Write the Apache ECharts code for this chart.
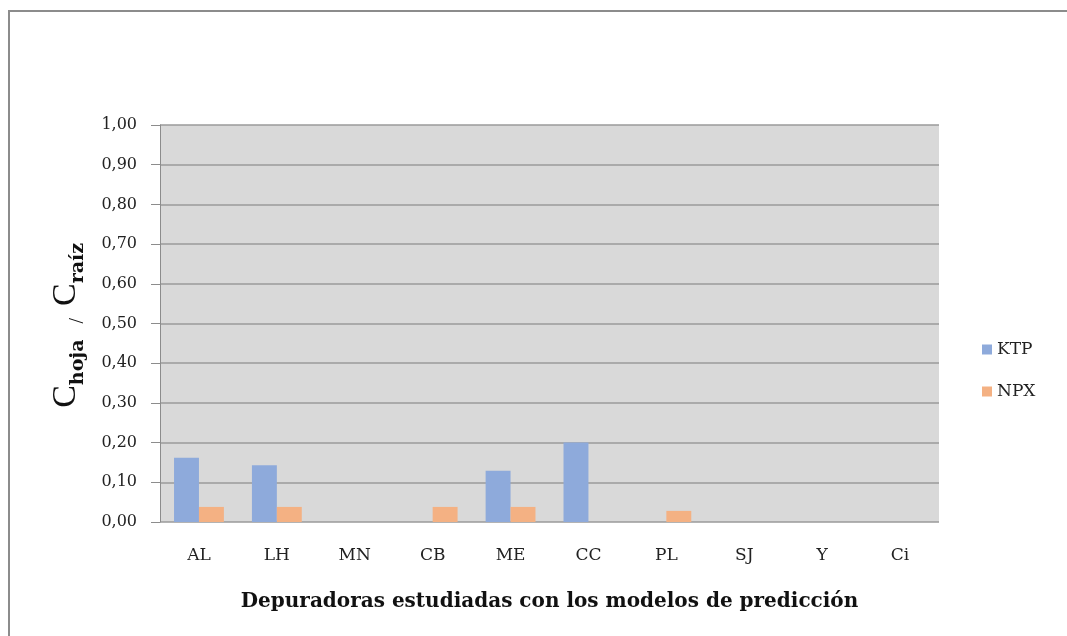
<!DOCTYPE html>
<html>
<head>
<meta charset="utf-8">
<script src="https://cdn.jsdelivr.net/npm/echarts@6/dist/echarts.min.js"></script>
<style>
  html, body { margin: 0; padding: 0; background: #fff; overflow: hidden; }
  #frame { position: absolute; left: 8px; top: 10px; width: 1100px; height: 700px; border: 2px solid #8c8c8c; box-sizing: border-box; }
  #main { position: absolute; left: 0; top: 0; width: 1067px; height: 636px; }
</style>
</head>
<body>
<div id="frame"></div>
<div id="main"></div>
<script>
var categories = ['AL', 'LH', 'MN', 'CB', 'ME', 'CC', 'PL', 'SJ', 'Y', 'Ci'];
var ktp = [0.162, 0.143, null, null, 0.129, 0.20, null, null, null, null];
var npx = [0.038, 0.038, null, 0.038, 0.038, null, 0.028, null, null, null];

var chart = echarts.init(document.getElementById('main'));
var serif = '"DejaVu Serif", "Liberation Serif", serif';
var serif2 = '"Liberation Serif", "DejaVu Serif", serif';

var option = {
  backgroundColor: 'transparent',
  textStyle: { fontFamily: serif },
  legend: {
    orient: 'vertical',
    left: 977,
    top: 336,
    itemWidth: 10,
    itemHeight: 10,
    itemGap: 25,
    icon: 'rect',
    textStyle: { fontFamily: serif, fontSize: 17, color: '#222' },
    data: ['KTP', 'NPX']
  },
  grid: {
    left: 160,
    right: 128,
    top: 125,
    bottom: 114,
    show: true,
    backgroundColor: '#d9d9d9',
    borderWidth: 0
  },
  xAxis: {
    type: 'category',
    data: categories,
    name: 'Depuradoras estudiadas con los modelos de predicción',
    nameLocation: 'middle',
    nameGap: 70,
    nameTextStyle: { fontFamily: serif, fontSize: 20, fontWeight: 'bold', color: '#111' },
    axisLine: { show: false },
    axisTick: { show: false },
    axisLabel: { fontFamily: serif, fontSize: 17, color: '#222', margin: 25 }
  },
  yAxis: {
    type: 'value',
    min: 0,
    max: 1,
    interval: 0.1,
    name: '{c|C}{sub|hoja}{sl|/}{c|C}{sub|raíz}{pad| }',
    nameLocation: 'middle',
    nameGap: 72,
    nameRotate: 90,
    nameTextStyle: {
      rich: {
        c: { fontFamily: serif2, fontSize: 34, color: '#111', verticalAlign: 'top', lineHeight: 34 },
        sub: { fontFamily: serif, fontSize: 19, fontWeight: 'bold', color: '#111', verticalAlign: 'bottom', lineHeight: 22 },
        sl: { fontFamily: serif2, fontSize: 20, color: '#111', verticalAlign: 'bottom', lineHeight: 32, padding: [0, 12, 0, 16] },
        pad: { lineHeight: 39 }
      }
    },
    axisLine: { show: true, lineStyle: { color: '#8c8c8c', width: 1 } },
    axisTick: { show: true, length: 9, lineStyle: { color: '#8c8c8c' } },
    splitLine: { lineStyle: { color: '#9a9a9a', width: 1.5 } },
    axisLabel: {
      fontFamily: serif,
      fontSize: 16,
      color: '#222',
      margin: 23,
      formatter: function (v) { return v.toFixed(2).replace('.', ','); }
    }
  },
  series: [
    {
      name: 'KTP',
      type: 'bar',
      data: ktp,
      itemStyle: { color: '#8eaadb' },
      barGap: '0%',
      barCategoryGap: '36%'
    },
    {
      name: 'NPX',
      type: 'bar',
      data: npx,
      itemStyle: { color: '#f4b183' }
    }
  ]
};
chart.setOption(option);
</script>
</body>
</html>
